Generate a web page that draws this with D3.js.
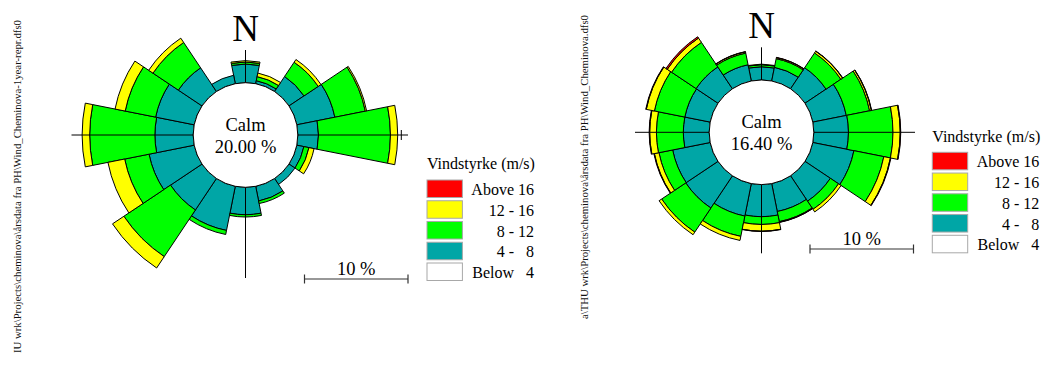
<!DOCTYPE html>
<html>
<head>
<meta charset="utf-8">
<script src="https://cdn.jsdelivr.net/npm/d3@7"></script>
<style>
  html, body { margin: 0; padding: 0; background: #fff; }
  svg { display: block; font-family: "Liberation Serif", "Times New Roman", serif; }
  .pre { white-space: pre; }
</style>
</head>
<body>
<svg id="chart" width="1050" height="370"></svg>
<script>
// ---- data ---------------------------------------------------------------
const directions = ["N","NNE","NE","ENE","E","ESE","SE","SSE","S","SSW","SW","WSW","W","WNW","NW","NNW"];
const speedClasses = ["4-8", "8-12", "12-16", "16+"];
const classColors = ["#00a6a6", "#00ff00", "#ffff00", "#ff0000"];

const legendTitle = "Vindstyrke (m/s)";
const legendLabels = ["Above 16", "12 - 16", "8 - 12", "4 -   8", "Below   4"];
const legendColors = ["#ff0000", "#ffff00", "#00ff00", "#00a6a6", "#ffffff"];
const scaleBarValue = 10;   // percent
const scaleBarLabel = "10 %";

// Wind_Cheminova-1year-repr.dfs0 (frequency in % per direction and speed class)
const calm1 = 20.00;
const rose1_4to8   = [1.80, 0.30, 1.75, 3.75, 2.00, 0.70, 0.70, 1.45, 2.65, 4.35, 3.66, 4.45, 3.70, 3.80, 2.75, 0.83];
const rose1_8to12  = [0.20, 0.40, 1.65, 3.00, 6.95, 0.50, 0.00, 0.25, 0.22, 0.40, 5.42, 2.40, 6.30, 3.00, 2.95, 0.00];
const rose1_12to16 = [0.13, 0.35, 0.32, 0.13, 0.70, 0.50, 0.00, 0.00, 0.00, 0.00, 1.32, 1.65, 0.73, 1.00, 0.50, 0.00];
const rose1_above16= [0, 0, 0, 0, 0, 0, 0, 0, 0, 0, 0, 0, 0, 0, 0, 0];
const path1 = "IU wrk\\Projects\\cheminova\\årsdata fra PH\\Wind_Cheminova-1year-repr.dfs0";

// Wind_Cheminova.dfs0
const calm2 = 16.40;
const rose2_4to8   = [1.28, 1.35, 2.45, 3.30, 3.35, 4.05, 2.95, 2.75, 3.10, 3.20, 3.75, 3.70, 2.50, 2.50, 2.55, 1.60];
const rose2_8to12  = [0.20, 0.85, 1.72, 2.30, 4.30, 2.95, 0.95, 1.00, 0.75, 2.00, 2.80, 1.35, 2.60, 3.00, 2.85, 1.15];
const rose2_12to16 = [0.05, 0.10, 0.20, 0.17, 0.70, 0.65, 0.30, 0.05, 0.65, 0.40, 0.30, 0.45, 0.65, 0.80, 0.50, 0.12];
const rose2_above16= [0.00, 0.03, 0.03, 0.03, 0.05, 0.05, 0.00, 0.03, 0.03, 0.00, 0.00, 0.05, 0.05, 0.05, 0.15, 0.03];
const path2 = "a\\THU wrk\\Projects\\cheminova\\årsdata fra PH\\Wind_Cheminova.dfs0";

// ---- drawing ------------------------------------------------------------
const svg = d3.select("#chart");

const CALM_R = 52.3;          // radius of the calm circle
const PX_PER_10 = 103.5;      // radial length of 10 %

function drawRose(opts) {
  const { cx, cy, calm, series, axis, tick, legend, bar, path } = opts;
  const g = svg.append("g").attr("transform", `translate(${cx},${cy})`);

  const rows = directions.map((d, i) => {
    const o = { dir: d };
    speedClasses.forEach((c, k) => { o[c] = series[k][i]; });
    return o;
  });
  const stacked = d3.stack().keys(speedClasses)(rows);

  const angle = d3.scaleBand()
    .domain(directions)
    .range([-Math.PI / 16, 2 * Math.PI - Math.PI / 16])
    .padding(0);
  const r = d3.scaleLinear().domain([0, 10]).range([CALM_R, CALM_R + PX_PER_10]);

  const arc = d3.arc()
    .innerRadius(d => r(d[0]))
    .outerRadius(d => r(d[1]))
    .startAngle(d => angle(d.data.dir))
    .endAngle(d => angle(d.data.dir) + angle.bandwidth());

  g.append("g").selectAll("g")
    .data(stacked)
    .join("g")
      .attr("fill", (s, k) => classColors[k])
    .selectAll("path")
    .data(s => s.filter(d => d[1] - d[0] > 0))
    .join("path")
      .attr("d", arc)
      .attr("stroke", "#000")
      .attr("stroke-width", 1)
      .attr("stroke-linejoin", "miter");

  // cross-hair axes
  const ax = g.append("g").attr("stroke", "#000").attr("stroke-width", 1);
  ax.append("line").attr("x1", axis.left).attr("x2", axis.right).attr("y1", 0).attr("y2", 0);
  ax.append("line").attr("x1", 0).attr("x2", 0).attr("y1", axis.top).attr("y2", axis.bottom);
  if (tick) {
    ax.append("line").attr("x1", r(10)).attr("x2", r(10)).attr("y1", -5).attr("y2", 5);
  }

  // calm circle
  g.append("circle").attr("r", CALM_R).attr("fill", "#fff").attr("stroke", "#000").attr("stroke-width", 1);
  g.append("text").attr("text-anchor", "middle").attr("y", -4.5)
    .attr("font-size", 18.5).text("Calm");
  g.append("text").attr("text-anchor", "middle").attr("y", 17.5)
    .attr("font-size", 18.5).text(d3.format(".2f")(calm) + " %");

  // north label
  g.append("text").attr("text-anchor", "middle").attr("y", -94)
    .attr("font-size", 37).text("N");

  // scale bar
  const len = r(scaleBarValue) - r(0);
  const sb = svg.append("g").attr("transform", `translate(${bar.x},${bar.y})`);
  sb.append("line").attr("x1", 0).attr("x2", len).attr("y1", 0).attr("y2", 0).attr("stroke", "#333").attr("stroke-width", 1.2);
  sb.append("line").attr("x1", 0).attr("x2", 0).attr("y1", -4.5).attr("y2", 4.5).attr("stroke", "#333").attr("stroke-width", 1.2);
  sb.append("line").attr("x1", len).attr("x2", len).attr("y1", -4.5).attr("y2", 4.5).attr("stroke", "#333").attr("stroke-width", 1.2);
  sb.append("text").attr("x", len / 2).attr("y", -4).attr("text-anchor", "middle")
    .attr("font-size", 18.5).text(scaleBarLabel);

  // legend
  const lg = svg.append("g").attr("transform", `translate(${legend.x},${legend.y})`);
  lg.append("text").attr("x", 0).attr("y", 0).attr("font-size", 16).text(legendTitle);
  const item = lg.selectAll("g.item").data(legendLabels).join("g")
    .attr("class", "item")
    .attr("transform", (d, i) => `translate(0,${10.6 + i * 20.75})`);
  item.append("rect").attr("width", 35.4).attr("height", 17.5)
    .attr("fill", (d, i) => legendColors[i]).attr("stroke", "#a8a8a8").attr("stroke-width", 1);
  item.append("text").attr("class", "pre").attr("x", 107).attr("y", 15)
    .attr("text-anchor", "end").attr("font-size", 16).text(d => d);

  // file path, rotated along the side
  svg.append("text")
    .attr("transform", `translate(${path.x},${path.y}) rotate(-90)`)
    .attr("text-anchor", "end")
    .attr("font-size", 10.75)
    .attr("fill", "#111")
    .text(path.text);
}

drawRose({
  cx: 245.5, cy: 135, calm: calm1,
  series: [rose1_4to8, rose1_8to12, rose1_12to16, rose1_above16],
  axis: { left: -174, right: 162.5, top: -85, bottom: 143 },
  tick: true,
  legend: { x: 427, y: 169.4 },
  bar: { x: 304.5, y: 279 },
  path: { x: 20.5, y: 20, text: path1 }
});

drawRose({
  cx: 761.5, cy: 132.3, calm: calm2,
  series: [rose2_4to8, rose2_8to12, rose2_12to16, rose2_above16],
  axis: { left: -126.5, right: 153.5, top: -85, bottom: 121 },
  tick: false,
  legend: { x: 932.3, y: 141.7 },
  bar: { x: 810, y: 249 },
  path: { x: 588, y: 15, text: path2 }
});
</script>
</body>
</html>
